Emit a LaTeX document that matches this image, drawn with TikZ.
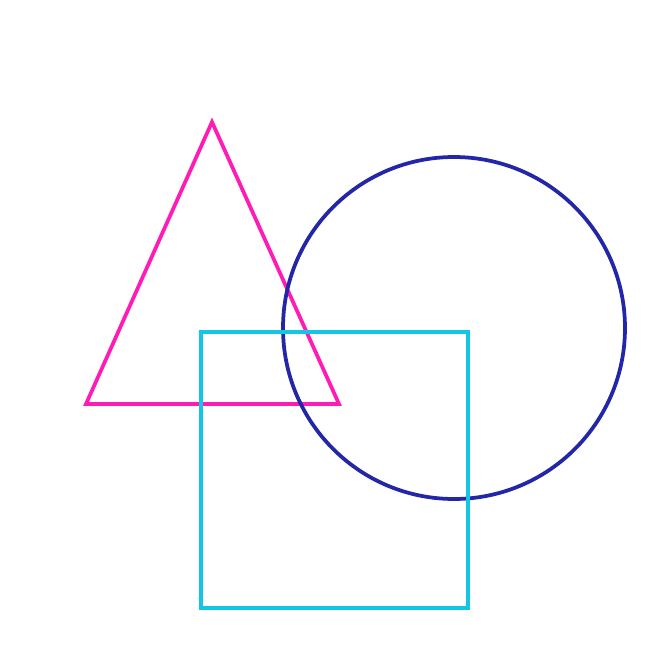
\documentclass[tikz,border=0pt]{standalone}
\usetikzlibrary{calc}
\definecolor{shpink}{HTML}{FF1CB4}
\definecolor{shnavy}{HTML}{2426A8}
\definecolor{shcyan}{HTML}{14C6E6}
\tikzset{
  shline/.style={line width=3.2pt, line join=miter},
  every picture/.style={line cap=rect},
}
\begin{document}
\begin{tikzpicture}[x=0.03cm, y=-0.03cm]

% Canvas.
\useasboundingbox (0, 0) rectangle (661, 669);

% Triangle.
\coordinate (apex) at (212, 122);
\coordinate (baseleft) at (86, 404);
\coordinate (baseright) at (339, 404);
\draw[shline, draw=shpink] (apex) -- (baseright) -- (baseleft) -- cycle;

% Circle.
\coordinate (centre) at (454, 328);
\draw[shline, draw=shnavy] (centre) circle [radius=171];

% Square on top.
\coordinate (sqtopleft) at (201, 332);
\coordinate (sqbottomright) at (468, 608);
\draw[shline, draw=shcyan] (sqtopleft) rectangle (sqbottomright);

\end{tikzpicture}
\end{document}
